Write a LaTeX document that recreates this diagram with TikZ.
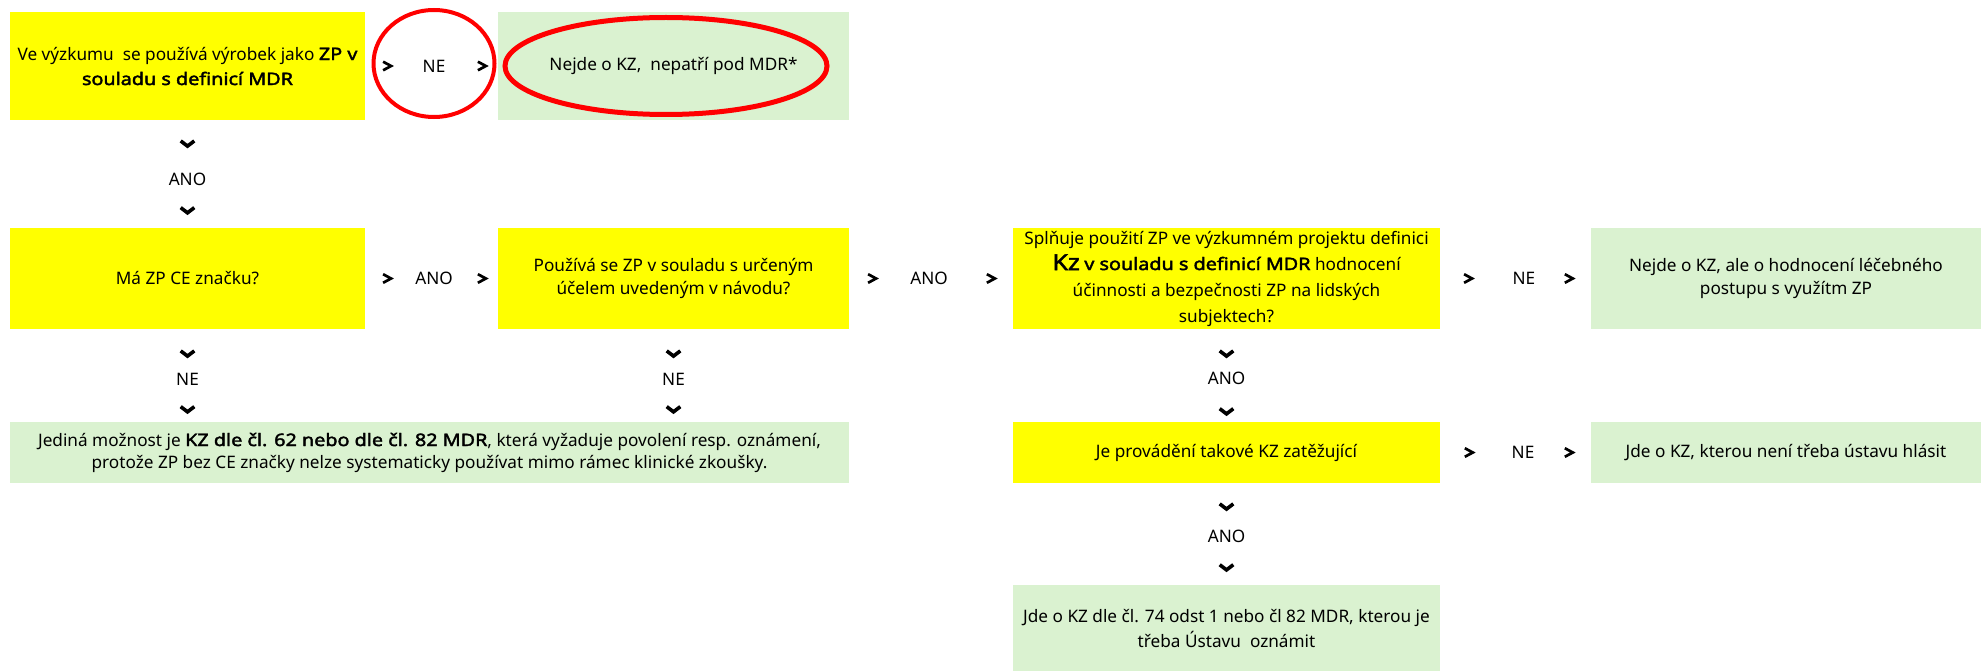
\documentclass[tikz,border=0pt]{standalone}
\usepackage{fontspec}
\setmainfont{Noto Sans}[BoldFont=*, BoldFeatures={FakeBold=2.2, FakeStretch=1.15}]
\usetikzlibrary{shapes.geometric}
\definecolor{boxyellow}{HTML}{FFFF00}
\definecolor{boxgreen}{HTML}{DAF2D0}
\definecolor{markred}{HTML}{FF0000}
\begin{document}
\begin{tikzpicture}[x=1bp,y=-1bp,
  every node/.style={font={\fontsize{17.2bp}{23bp}\selectfont}, inner sep=0pt, align=center, text=black},
  ybox/.style={fill=boxyellow, draw=none, rectangle},
  gbox/.style={fill=boxgreen, draw=none, rectangle},
  redring/.style={draw=markred, ellipse, fill=none},
  chevR/.pic={\draw[line width=2.7bp, line join=miter] (-4,-4.3)--(4,0)--(-4,4.3);},
  chevD/.pic={\draw[line width=3.6bp, line join=miter] (-6.8,-2.2)--(0,3)--(6.8,-2.2);},
]
\useasboundingbox (0,0) rectangle (1981,671);

% boxes
\node[ybox, minimum width=355bp, minimum height=108bp, font={\fontsize{17.2bp}{25bp}\selectfont}] (b1) at (187.5,66)
  {Ve výzkumu\ \ se používá výrobek jako \textbf{ZP v}\\\textbf{souladu s definicí MDR}};
\node[gbox, minimum width=351bp, minimum height=108bp] (g1) at (673.5,66)
  {Nejde o KZ,\ \ nepatří pod MDR*};
\node[ybox, minimum width=355bp, minimum height=101bp] (b2) at (187.5,278.5)
  {Má ZP CE značku?};
\node[ybox, minimum width=351bp, minimum height=101bp] (b3) at (673.5,278.5)
  {Používá se ZP v souladu s určeným\\účelem uvedeným v návodu?};
\node[ybox, minimum width=427bp, minimum height=101bp,
      font={\fontsize{17.2bp}{26bp}\selectfont}] (b4) at (1226.5,278.5)
  {Splňuje použití ZP ve výzkumném projektu definici\\
   {\fontsize{22bp}{26bp}\selectfont\bfseries Kz} \textbf{v souladu s definicí MDR} hodnocení\\
   účinnosti a bezpečnosti ZP na lidských\\subjektech?};
\node[gbox, minimum width=390bp, minimum height=101bp] (g2) at (1786,278.5)
  {Nejde o KZ, ale o hodnocení léčebného\\postupu s využítm ZP};
\node[gbox, minimum width=839bp, minimum height=61bp,
      font={\fontsize{17.2bp}{22bp}\selectfont}] (g3) at (429.5,452.5)
  {Jediná možnost je \textbf{KZ dle čl. 62 nebo dle čl. 82 MDR}, která vyžaduje povolení resp. oznámení,\\
   protože ZP bez CE značky nelze systematicky používat mimo rámec klinické zkoušky.};
\node[ybox, minimum width=427bp, minimum height=61bp] (b5) at (1226.5,452.5)
  {Je provádění takové KZ zatěžující};
\node[gbox, minimum width=390bp, minimum height=61bp] (g4) at (1786,452.5)
  {Jde o KZ, kterou není třeba ústavu hlásit};
\node[gbox, minimum width=427bp, minimum height=86bp, font={\fontsize{17.2bp}{25bp}\selectfont}] (g5) at (1226.5,628)
  {Jde o KZ dle čl. 74 odst 1 nebo čl 82 MDR, kterou je\\třeba Ústavu\ \ oznámit};

% red rings
\node[redring, line width=4bp, minimum width=121bp, minimum height=107bp] (e1) at (434,63.5) {};
\node[redring, line width=5bp, minimum width=322bp, minimum height=97bp] (e2) at (666,66) {};

% horizontal connectors
\path (b1.east) -- (g1.west) coordinate[pos=0.165] (h1a) node[pos=0.519] (h1l) {NE} coordinate[pos=0.88] (h1b);
\path (b2.east) -- (b3.west) coordinate[pos=0.165] (h2a) node[pos=0.519] (h2l) {ANO} coordinate[pos=0.88] (h2b);
\path (b3.east) -- (b4.west) coordinate[pos=0.14] (h3a) node[pos=0.488] (h3l) {ANO} coordinate[pos=0.866] (h3b);
\path (b4.east) -- (g2.west) coordinate[pos=0.185] (h4a) node[pos=0.556] (h4l) {NE} coordinate[pos=0.854] (h4b);
\path (b5.east) -- (g4.west) coordinate[pos=0.19] (h5a) node[pos=0.55] (h5l) {NE} coordinate[pos=0.854] (h5b);
\foreach \c in {h1a,h1b,h2a,h2b,h3a,h3b,h4a,h4b,h5a,h5b} {\pic at (\c) {chevR};}

% vertical connectors
\path (b1.south) -- (b2.north) coordinate[pos=0.213] (v1a) node[pos=0.546] (v1l) {ANO} coordinate[pos=0.833] (v1b);
\path (b2.south) -- (b2.south |- g3.north) coordinate[pos=0.258] (v2a) node[pos=0.538] (v2l) {NE} coordinate[pos=0.86] (v2b);
\path (b3.south) -- (b3.south |- g3.north) coordinate[pos=0.258] (v3a) node[pos=0.538] (v3l) {NE} coordinate[pos=0.86] (v3b);
\path (b4.south) -- (b5.north) coordinate[pos=0.258] (v4a) node[pos=0.527] (v4l) {ANO} coordinate[pos=0.882] (v4b);
\path (b5.south) -- (g5.north) coordinate[pos=0.225] (v5a) node[pos=0.52] (v5l) {ANO} coordinate[pos=0.824] (v5b);
\foreach \c in {v1a,v1b,v2a,v2b,v3a,v3b,v4a,v4b,v5a,v5b} {\pic at (\c) {chevD};}
\end{tikzpicture}
\end{document}
